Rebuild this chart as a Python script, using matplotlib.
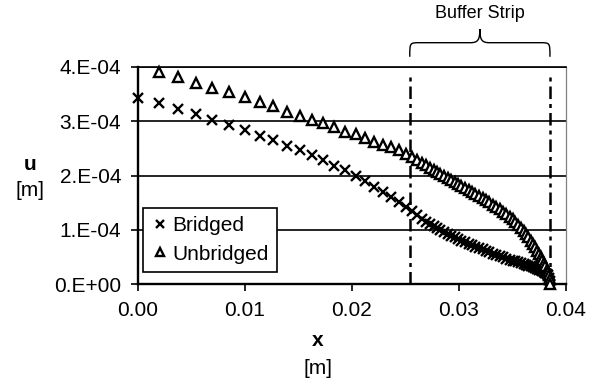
import numpy as np
import matplotlib
matplotlib.use("Agg")
import matplotlib.pyplot as plt
from matplotlib.path import Path
from matplotlib.patches import PathPatch

plt.rcParams['font.family'] = ['Liberation Sans', 'DejaVu Sans']

# ---- data ----
x_m = [0.00000, 0.00196, 0.00371, 0.00542, 0.00692, 0.00850, 0.01000, 0.01140,
       0.01262, 0.01393, 0.01514, 0.01626, 0.01729, 0.01832, 0.01935, 0.02033,
       0.02126, 0.02210, 0.02294, 0.02364, 0.02435, 0.02505, 0.02565,
       0.02612, 0.02654, 0.02693, 0.02728, 0.02762, 0.02794, 0.02827, 0.02860,
       0.02893, 0.02925, 0.02958, 0.02991, 0.03023, 0.03056, 0.03089, 0.03121,
       0.03154, 0.03187, 0.03220, 0.03252, 0.03285, 0.03318, 0.03350, 0.03382,
       0.03413, 0.03443, 0.03472, 0.03500, 0.03527, 0.03553, 0.03579, 0.03603,
       0.03626, 0.03649, 0.03670, 0.03691, 0.03710, 0.03729, 0.03747, 0.03764,
       0.03779, 0.03794, 0.03808, 0.03821, 0.03831, 0.03839, 0.03847, 0.03855]

# displacement in units of 1e-4 m
u_bridged_e4 = [3.423, 3.331, 3.226, 3.128, 3.023, 2.931, 2.839, 2.728, 2.654, 2.544,
                2.470, 2.378, 2.286, 2.181, 2.101, 1.991, 1.899, 1.794, 1.701, 1.609,
                1.517, 1.425, 1.340,
                1.265, 1.200, 1.147, 1.099, 1.062, 1.025, 0.990, 0.959, 0.925, 0.894,
                0.861, 0.829, 0.798, 0.769, 0.741, 0.713, 0.688, 0.662, 0.636, 0.610,
                0.584, 0.560, 0.535, 0.511, 0.490, 0.470, 0.450, 0.431, 0.415, 0.398,
                0.382, 0.367, 0.352, 0.337, 0.324, 0.312, 0.299, 0.282, 0.265, 0.249,
                0.234, 0.221, 0.203, 0.179, 0.159, 0.107, 0.055, 0.0]

u_unbridged_e4 = [np.nan, 3.902, 3.810, 3.700, 3.607, 3.534, 3.441, 3.360, 3.285, 3.176,
                  3.102, 3.023, 2.962, 2.888, 2.807, 2.761, 2.695, 2.623, 2.571, 2.520,
                  2.466, 2.396, 2.347,
                  2.289, 2.238, 2.190, 2.146, 2.105, 2.065, 2.024, 1.983, 1.947, 1.912,
                  1.876, 1.840, 1.805, 1.770, 1.735, 1.698, 1.663, 1.624, 1.585, 1.545,
                  1.504, 1.462, 1.418, 1.375, 1.333, 1.287, 1.239, 1.191, 1.145, 1.088,
                  1.032, 0.979, 0.922, 0.859, 0.796, 0.737, 0.682, 0.616, 0.553, 0.492,
                  0.437, 0.383, 0.326, 0.267, 0.216, 0.175, 0.100, 0.0]

buffer_strip = [0.0254, 0.0385]

x_ticks = [0.00, 0.01, 0.02, 0.03, 0.04]
x_tick_labels = ["0.00", "0.01", "0.02", "0.03", "0.04"]
y_ticks_e4 = [0, 1, 2, 3, 4]
y_tick_labels = ["0.E+00", "1.E-04", "2.E-04", "3.E-04", "4.E-04"]

series_names = ["Bridged", "Unbridged"]

# ---- figure ----
W, H = 602, 387
fig = plt.figure(figsize=(W / 100, H / 100), dpi=100)
L, R, T, B = 138, 566, 67, 284
ax = fig.add_axes([L / W, 1 - B / H, (R - L) / W, (B - T) / H])

xb = np.array(x_m)
ub = np.array(u_bridged_e4) * 1e-4
uu = np.array(u_unbridged_e4) * 1e-4

ax.set_xlim(0, 0.04)
ax.set_ylim(0, 4e-4)

ax.set_xticks(x_ticks)
ax.set_xticklabels(x_tick_labels)
ax.set_yticks([v * 1e-4 for v in y_ticks_e4])
ax.set_yticklabels(y_tick_labels)
ax.tick_params(axis='both', direction='out', length=5, width=1.2,
               labelsize=15, colors='black')
ax.tick_params(axis='x', pad=7)
ax.tick_params(axis='y', pad=7)

ax.grid(axis='y', color='black', linewidth=1.2, zorder=1)
ax.set_axisbelow(True)
for side in ['left', 'bottom']:
    ax.spines[side].set_linewidth(1.7)
    ax.spines[side].set_color('black')
ax.spines['top'].set_linewidth(1.2)
ax.spines['top'].set_color('black')
ax.spines['right'].set_linewidth(0.9)
ax.spines['right'].set_color('#808080')

# buffer strip lines
for xv in buffer_strip:
    ax.axvline(xv, ymax=0.96, color='black', linewidth=1.8,
               linestyle=(0, (5.0, 2.0, 1.6, 2.0)), zorder=2)

ax.plot(xb, ub, linestyle='none', marker='x', markersize=7, markeredgewidth=1.7,
        color='black', label=series_names[0], clip_on=False, zorder=3)
ax.plot(xb, uu, linestyle='none', marker='^', markersize=6.5, markeredgewidth=1.7,
        markerfacecolor='white', markeredgecolor='black', label=series_names[1],
        clip_on=False, zorder=3)

leg = ax.legend(loc='lower left', bbox_to_anchor=(0.0124, 0.0553), borderaxespad=0,
                fontsize=15, frameon=True, fancybox=False, framealpha=1,
                edgecolor='black', handlelength=0.8, handletextpad=0.2,
                borderpad=0.4, labelspacing=0.45, markerscale=0.85)
leg.get_frame().set_linewidth(1.2)
leg.set_zorder(5)

# brace over buffer strip
trans = ax.get_xaxis_transform()
xl, xr = buffer_strip
xm = 0.5 * (xl + xr)
rx = 0.0009
y_end, y_bar, y_tip = 1.047, 1.112, 1.175
dy = y_tip - y_bar
verts = [(xl, y_end), (xl, y_bar), (xl, y_bar), (xl + rx, y_bar),
         (xm - rx, y_bar),
         (xm - 0.2 * rx, y_bar), (xm, y_bar + 0.2 * dy), (xm, y_tip),
         (xm, y_bar + 0.2 * dy), (xm + 0.2 * rx, y_bar), (xm + rx, y_bar),
         (xr - rx, y_bar),
         (xr, y_bar), (xr, y_bar), (xr, y_end)]
codes = [Path.MOVETO, Path.CURVE4, Path.CURVE4, Path.CURVE4,
         Path.LINETO,
         Path.CURVE4, Path.CURVE4, Path.CURVE4,
         Path.CURVE4, Path.CURVE4, Path.CURVE4,
         Path.LINETO,
         Path.CURVE4, Path.CURVE4, Path.CURVE4]
brace = PathPatch(Path(verts, codes), transform=trans, fill=False,
                  edgecolor='black', linewidth=1.0, clip_on=False)
ax.add_patch(brace)
ax.text(xm, 1.2456, "Buffer Strip", transform=trans, ha='center', va='center',
        fontsize=13)

# axis labels
fig.text(318 / W, 1 - 341 / H, "x", ha='center', va='center', fontsize=15,
         fontweight='bold')
fig.text(318 / W, 1 - 369 / H, "[m]", ha='center', va='center', fontsize=15)
fig.text(30 / W, 1 - 164 / H, "u", ha='center', va='center', fontsize=15,
         fontweight='bold')
fig.text(30 / W, 1 - 191 / H, "[m]", ha='center', va='center', fontsize=15)

fig.savefig("out.png", dpi=100)
